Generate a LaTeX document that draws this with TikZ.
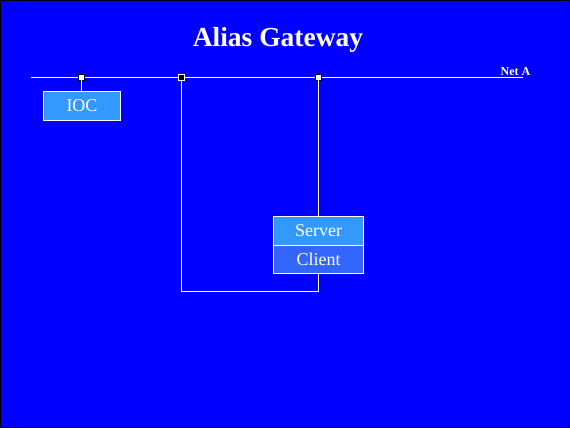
\documentclass[tikz,border=0pt]{standalone}
\usepackage{fontspec}
\setmainfont{Liberation Serif}
\begin{document}
\begin{tikzpicture}[x=1pt,y=-1pt,
  wire/.style={draw=white,line width=1pt},
  tapw/.style={draw=black,fill=white,line width=0.8pt,minimum size=6pt,inner sep=0pt},
  tapb/.style={draw=white,fill=black,line width=0.8pt,minimum size=6pt,inner sep=0pt},
  box/.style={draw=white,line width=1pt,text=white,font=\fontsize{18}{20}\selectfont,inner sep=0pt,anchor=north west}]
\fill[blue] (0,0) rectangle (570,428);
\draw[black,line width=1pt] (0.5,0.5) rectangle (569.5,427.5);
\useasboundingbox (0,0) rectangle (570,428);
\node[text=white,font=\bfseries\fontsize{27.5}{30}\selectfont] (title) at (278,40) {Alias Gateway};
\coordinate (l) at (31,77);
\coordinate (r) at (523,77);
\node[text=white,font=\bfseries\fontsize{12}{14}\selectfont,anchor=base] (neta) at (515.5,75) {Net A};
\node[box,fill={rgb,255:red,51;green,153;blue,255},minimum width=77pt,minimum height=29pt] (ioc) at (43,91) {IOC};
\coordinate (b1) at (181,291);
\coordinate (b2) at (318,291);
\draw[wire] (l) -- (r);
\node[tapw] (t1) at (81,77) {};
\node[tapb] (t2) at (181,77) {};
\node[tapw] (t3) at (318,77) {};
\draw[wire] (t1) -- (ioc.north -| t1);
\draw[wire] (t2) -- (b1) -- (b2) -- (t3);
\node[box,fill={rgb,255:red,51;green,153;blue,255},minimum width=90pt,minimum height=29pt] (server) at (273,216) {Server};
\node[box,fill={rgb,255:red,51;green,102;blue,255},minimum width=90pt,minimum height=28pt] (client) at (273,245) {Client};
\end{tikzpicture}
\end{document}
